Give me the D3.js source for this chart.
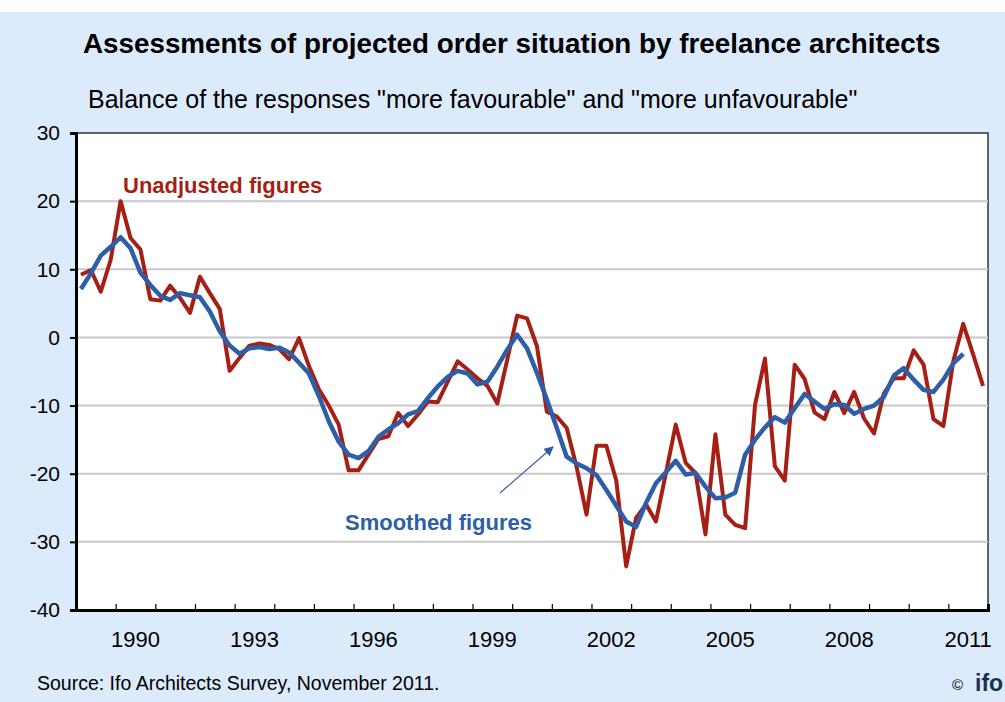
<!DOCTYPE html>
<html>
<head>
<meta charset="utf-8">
<script src="https://cdn.jsdelivr.net/npm/d3@7"></script>
<style>
  body { margin: 0; background: #fff; }
  text { font-family: "Liberation Sans", Arial, sans-serif; }
</style>
</head>
<body>
<div id="chart"></div>
<script>
// quarterly data, first point = 1989 Q1
var startYear = 1989;
var unadjusted = [
  9.2, 9.9, 6.7, 11.4, 20.0, 14.6, 12.9, 5.6, 5.4, 7.6, 5.8, 3.6,
  8.9, 6.5, 4.2, -4.9, -3.0, -1.2, -0.9, -1.1, -1.7, -3.2, -0.1, -4.2,
  -7.6, -10.0, -12.8, -19.5, -19.5, -17.2, -14.9, -14.5, -11.1, -13.0, -11.3, -9.4,
  -9.5, -6.5, -3.5, -4.7, -6.0, -7.1, -9.7, -3.3, 3.2, 2.8, -1.3, -10.9,
  -11.6, -13.3, -19.0, -26.0, -15.9, -15.9, -21.0, -33.6, -26.5, -24.5, -27.0, -20.0,
  -12.8, -18.4, -19.9, -28.9, -14.2, -26.0, -27.5, -28.0, -9.9, -3.1, -18.9, -21.0,
  -4.0, -6.1, -11.0, -12.0, -8.0, -11.1, -8.0, -11.9, -14.1, -8.2, -6.0, -6.0,
  -1.9, -4.0, -12.0, -13.0, -3.5, 2.0, -2.5, -7.1
];
var smoothed = [
  7.1, 9.4, 12.0, 13.3, 14.7, 13.1, 9.5, 7.7, 6.1, 5.5, 6.5, 6.2,
  5.9, 3.8, 0.9, -1.2, -2.4, -1.6, -1.4, -1.7, -1.5, -2.2, -3.7, -5.3,
  -8.6, -12.3, -15.3, -17.2, -17.7, -16.7, -14.6, -13.5, -12.6, -11.3, -10.8, -8.9,
  -7.2, -5.8, -4.9, -5.3, -6.9, -6.5, -4.3, -1.8, 0.4, -1.6, -5.2, -9.1,
  -13.3, -17.5, -18.5, -19.2, -20.2, -22.4, -24.7, -27.0, -27.8, -24.3, -21.4, -19.8,
  -18.1, -20.1, -19.9, -21.9, -23.6, -23.5, -22.8, -17.2, -15.0, -13.2, -11.7, -12.5,
  -10.4, -8.3, -9.4, -10.5, -9.8, -9.9, -11.2, -10.5, -10.0, -8.7, -5.6, -4.5,
  -6.2, -7.7, -8.0, -6.2, -3.8, -2.4
];
var yTicks = [30, 20, 10, 0, -10, -20, -30, -40];
var xLabels = [1990, 1993, 1996, 1999, 2002, 2005, 2008, 2011];

var svgWidth = 1005;
var svgHeight = 702;
var margin = { top: 133, right: 17, bottom: 92, left: 76 };
var width = svgWidth - margin.left - margin.right;
var height = svgHeight - margin.top - margin.bottom;

var svg = d3.select("#chart")
  .append("svg")
  .attr("width", svgWidth)
  .attr("height", svgHeight);

// light blue panel under a thin white strip
svg.append("rect")
  .attr("x", 0).attr("y", 12)
  .attr("width", svgWidth).attr("height", svgHeight - 12)
  .attr("fill", "#dcebfc");

svg.append("text")
  .attr("x", 83).attr("y", 53)
  .attr("font-size", "27.8px")
  .attr("font-weight", "bold")
  .attr("fill", "#000")
  .text("Assessments of projected order situation by freelance architects");

svg.append("text")
  .attr("x", 88).attr("y", 108)
  .attr("font-size", "25px")
  .attr("fill", "#000")
  .text("Balance of the responses \"more favourable\" and \"more unfavourable\"");

var chartGroup = svg.append("g")
  .attr("transform", `translate(${margin.left}, ${margin.top})`);

chartGroup.append("rect")
  .attr("width", width).attr("height", height)
  .attr("fill", "#fff")
  .attr("stroke", "#333")
  .attr("stroke-width", 1.5);

var xScale = d3.scaleLinear()
  .domain([startYear, startYear + Math.ceil(unadjusted.length / 4)])
  .range([0, width]);

var yScale = d3.scaleLinear()
  .domain([-40, 30])
  .range([height, 0]);

// gridlines
chartGroup.selectAll(".grid")
  .data(yTicks.filter(d => d > -40 && d < 30))
  .enter()
  .append("line")
  .attr("x1", 0).attr("x2", width)
  .attr("y1", d => yScale(d)).attr("y2", d => yScale(d))
  .attr("stroke", "#c8c8c8")
  .attr("stroke-width", 2);

// left axis
var leftAxis = d3.axisLeft(yScale)
  .tickValues(yTicks)
  .tickSize(6)
  .tickPadding(10)
  .tickFormat(d => String(d));

var yAxisG = chartGroup.append("g").call(leftAxis);
yAxisG.select(".domain").attr("stroke", "#000").attr("stroke-width", 3);
yAxisG.selectAll(".tick line").attr("stroke", "#000").attr("stroke-width", 2);
yAxisG.selectAll(".tick text")
  .attr("font-size", "21px")
  .attr("fill", "#000")
  .style("font-family", "'Liberation Sans', Arial, sans-serif");

// bottom axis: year boundary ticks pointing up, labels centred in the year
var yearTicks = d3.range(startYear + 1, startYear + Math.ceil(unadjusted.length / 4));
var bottomAxis = d3.axisBottom(xScale)
  .tickValues(yearTicks)
  .tickSize(-6)
  .tickFormat("");

var xAxisG = chartGroup.append("g")
  .attr("transform", `translate(0, ${height})`)
  .call(bottomAxis);
xAxisG.select(".domain").attr("stroke", "#000").attr("stroke-width", 3);
xAxisG.selectAll(".tick line").attr("stroke", "#000").attr("stroke-width", 1.2);

chartGroup.selectAll(".xlabel")
  .data(xLabels)
  .enter()
  .append("text")
  .attr("x", d => xScale(d + 0.5))
  .attr("y", height + 37)
  .attr("text-anchor", "middle")
  .attr("font-size", "22px")
  .attr("fill", "#000")
  .text(d => d);

// lines
var line = d3.line()
  .x((d, i) => xScale(startYear + (i + 0.5) / 4))
  .y(d => yScale(d));

chartGroup.append("path")
  .datum(unadjusted)
  .attr("d", line)
  .attr("fill", "none")
  .attr("stroke", "#a61f15")
  .attr("stroke-width", 4)
  .attr("stroke-linejoin", "round");

chartGroup.append("path")
  .datum(smoothed)
  .attr("d", line)
  .attr("fill", "none")
  .attr("stroke", "#2e5ea8")
  .attr("stroke-width", 4.5)
  .attr("stroke-linejoin", "round");

// labels
svg.append("text")
  .attr("x", 123).attr("y", 193)
  .attr("font-size", "22px")
  .attr("font-weight", "bold")
  .attr("fill", "#a61f15")
  .text("Unadjusted figures");

svg.append("text")
  .attr("x", 345).attr("y", 530)
  .attr("font-size", "22px")
  .attr("font-weight", "bold")
  .attr("fill", "#2e5ea8")
  .text("Smoothed figures");

svg.append("defs").append("marker")
  .attr("id", "arrow")
  .attr("viewBox", "0 0 10 10")
  .attr("refX", 9).attr("refY", 5)
  .attr("markerWidth", 8).attr("markerHeight", 8)
  .attr("orient", "auto")
  .append("path")
  .attr("d", "M0,0 L10,5 L0,10 z")
  .attr("fill", "#2e5ea8");

svg.append("line")
  .attr("x1", 500).attr("y1", 493)
  .attr("x2", 553).attr("y2", 447)
  .attr("stroke", "#2e5ea8")
  .attr("stroke-width", 1.2)
  .attr("marker-end", "url(#arrow)");

// footer
svg.append("text")
  .attr("x", 37).attr("y", 690)
  .attr("font-size", "19.5px")
  .attr("fill", "#000")
  .text("Source: Ifo Architects Survey, November 2011.");

svg.append("text")
  .attr("x", 952).attr("y", 690)
  .attr("font-size", "15px")
  .attr("fill", "#000")
  .text("©");

svg.append("text")
  .attr("x", 975).attr("y", 691)
  .attr("font-size", "23px")
  .attr("font-weight", "bold")
  .attr("fill", "#1b2f4f")
  .text("ifo");
</script>
</body>
</html>
